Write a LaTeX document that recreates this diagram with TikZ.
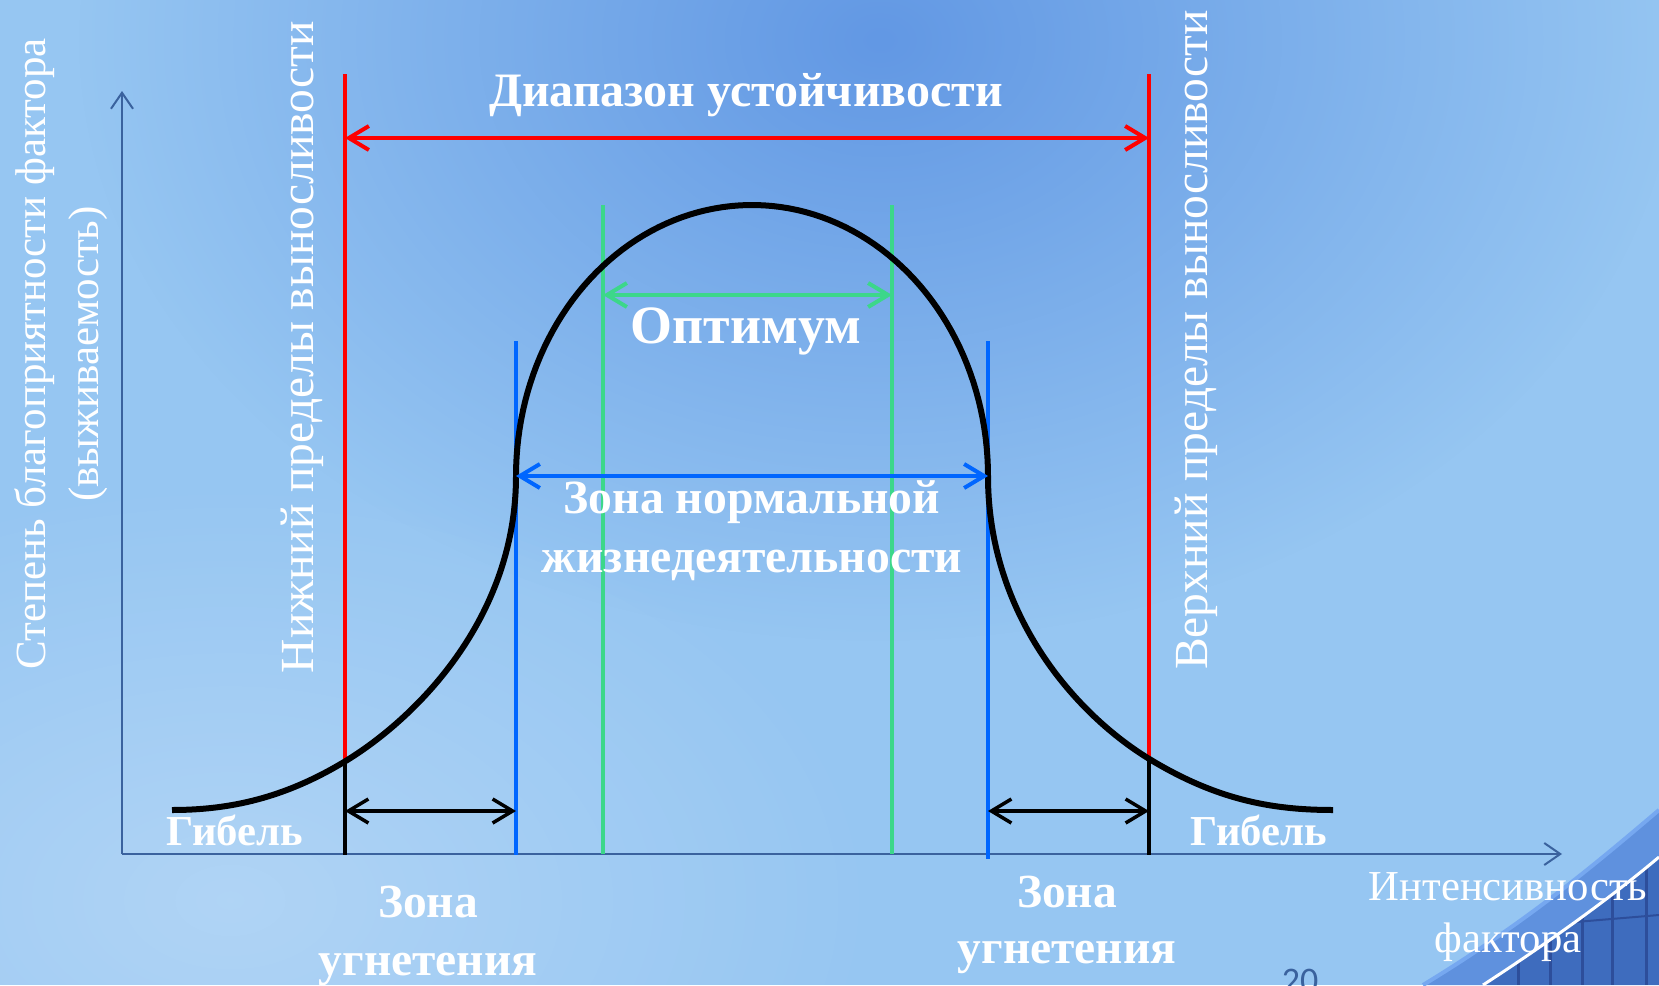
\documentclass[tikz,border=0pt]{standalone}
\usepackage{fontspec}
\setmainfont{Liberation Serif}
\newfontfamily\numfont{Carlito}
\usetikzlibrary{arrows.meta,fadings}

\definecolor{bgmid}{RGB}{150,198,242}
\definecolor{bgdark}{RGB}{98,152,228}
\definecolor{axisblue}{RGB}{58,98,158}
\definecolor{limred}{RGB}{255,0,0}
\definecolor{normblue}{RGB}{0,102,255}
\definecolor{optgreen}{RGB}{60,215,138}
\definecolor{decoblue}{RGB}{95,145,222}
\definecolor{decodark}{RGB}{62,108,190}
\definecolor{decoline}{RGB}{45,78,155}
\definecolor{decoedge}{RGB}{118,168,240}
\tikzfading[name=glow, inner color=transparent!0, outer color=transparent!100]

\begin{document}
\begin{tikzpicture}[x=1pt, y=-1pt,
  every node/.style={text=white, inner sep=0pt},
  bold/.style={font=\bfseries\fontsize{47.5}{58}\selectfont, align=center, anchor=base},
  plain/.style={font=\fontsize{42.7}{52}\selectfont, align=center, anchor=base},
  side/.style={font=\fontsize{47.5}{53}\selectfont, align=center, anchor=base, rotate=90},
  dimline/.style={{Straight Barb[length=20pt, width=24pt]}-{Straight Barb[length=20pt, width=24pt]}, line width=4pt},
  axis/.style={axisblue, line width=2pt, -{Straight Barb[length=16pt, width=22pt]}}]

\useasboundingbox (0,0) rectangle (1659,985);
\clip (0,0) rectangle (1659,985);
\fill[bgmid] (0,0) rectangle (1659,985);
\fill[bgdark, path fading=glow] (880,40) ellipse [x radius=800, y radius=600];
\fill[white, opacity=0.25, path fading=glow] (230,900) ellipse [x radius=650, y radius=420];

\fill[decoblue] (1423,985) .. controls (1530,920) and (1600,860) .. (1659,810) -- (1659,985) -- cycle;
\begin{scope}
  \clip (1483,985) .. controls (1560,935) and (1620,890) .. (1659,857) -- (1659,985) -- cycle;
  \fill[decodark] (1400,800) rectangle (1659,985);
  \foreach \x in {1518,1550,1582,1612,1646}
    \draw[decoline, line width=3pt] (\x,820) -- (\x,985);
  \draw[decoline, line width=2pt] (1480,930) -- (1659,915);
\end{scope}
\draw[decoedge, line width=4pt] (1423,985) .. controls (1530,920) and (1600,860) .. (1659,810);
\draw[white, line width=3pt] (1483,985) .. controls (1560,935) and (1620,890) .. (1659,857);

\coordinate (o) at (122,854);
\coordinate (ytip) at (122,91);
\coordinate (xtip) at (1562,854);
\draw[axis] (o) -- (ytip);
\draw[axis] (o) -- (xtip);

\foreach \x/\top/\bot/\c in {345/74/761/limred, 1149/74/761/limred,
    516/341/855/normblue, 988/341/859/normblue, 603/205/854/optgreen, 892/205/854/optgreen}
  \draw[\c, line width=4pt] (\x,\top) -- (\x,\bot);
\draw[line width=3.5pt] (345,761) -- (345,855);
\draw[line width=3.5pt] (1149,761) -- (1149,855);

\draw[line width=6pt] (172,810) .. controls (230,810) and (284,798) .. (344,762)
  .. controls (414,720) and (516,620) .. (516,476)
  -- plot[domain=180:360, samples=90] ({752+236*cos(\x)}, {476+271*sin(\x)})
  .. controls (988,615) and (1076,715) .. (1151,760)
  .. controls (1216,799) and (1270,810) .. (1333,810);

\coordinate (rangeL) at (345,138);
\coordinate (rangeR) at (1149,138);
\coordinate (optL) at (603,295);
\coordinate (optR) at (892,295);
\coordinate (normL) at (516,476);
\coordinate (normR) at (988,476);
\coordinate (lowL) at (345,811);
\coordinate (lowR) at (516,811);
\coordinate (highL) at (988,811);
\coordinate (highR) at (1149,811);
\draw[dimline, limred] (rangeL) -- (rangeR);
\draw[dimline, optgreen] (optL) -- (optR);
\draw[dimline, normblue] (normL) -- (normR);
\draw[dimline, line width=3.5pt] (lowL) -- (lowR);
\draw[dimline, line width=3.5pt] (highL) -- (highR);

\node[bold, font=\bfseries\fontsize{48}{58}\selectfont] (range) at (746,106) {Диапазон устойчивости};
\node[bold, font=\bfseries\fontsize{54}{60}\selectfont] (optimum) at (746,343) {Оптимум};
\node[bold, font=\bfseries\fontsize{47.7}{59}\selectfont] (normal) at (752,572) {Зона нормальной\\жизнедеятельности};
\node[bold, font=\bfseries\fontsize{42.7}{50}\selectfont] (death1) at (235,845) {Гибель};
\node[bold, font=\bfseries\fontsize{42.7}{50}\selectfont] (death2) at (1259,845) {Гибель};
\node[bold] (stress1) at (428,975) {Зона\\угнетения};
\node[bold, font=\bfseries\fontsize{47.5}{56}\selectfont] (stress2) at (1067,963) {Зона\\угнетения};
\node[plain] (xlab) at (1508,952) {Интенсивность\\фактора};
\node[side, font=\fontsize{43}{53}\selectfont] (ylab) at (98,354) {Степень благоприятности фактора\\(выживаемость)};
\node[side] (lowlab) at (313,347) {Нижний пределы выносливости};
\node[side] (highlab) at (1207,340) {Верхний пределы выносливости};
\node[anchor=base, text=axisblue, font=\numfont\fontsize{36}{40}\selectfont] (page) at (1300,992) {20};
\end{tikzpicture}
\end{document}
